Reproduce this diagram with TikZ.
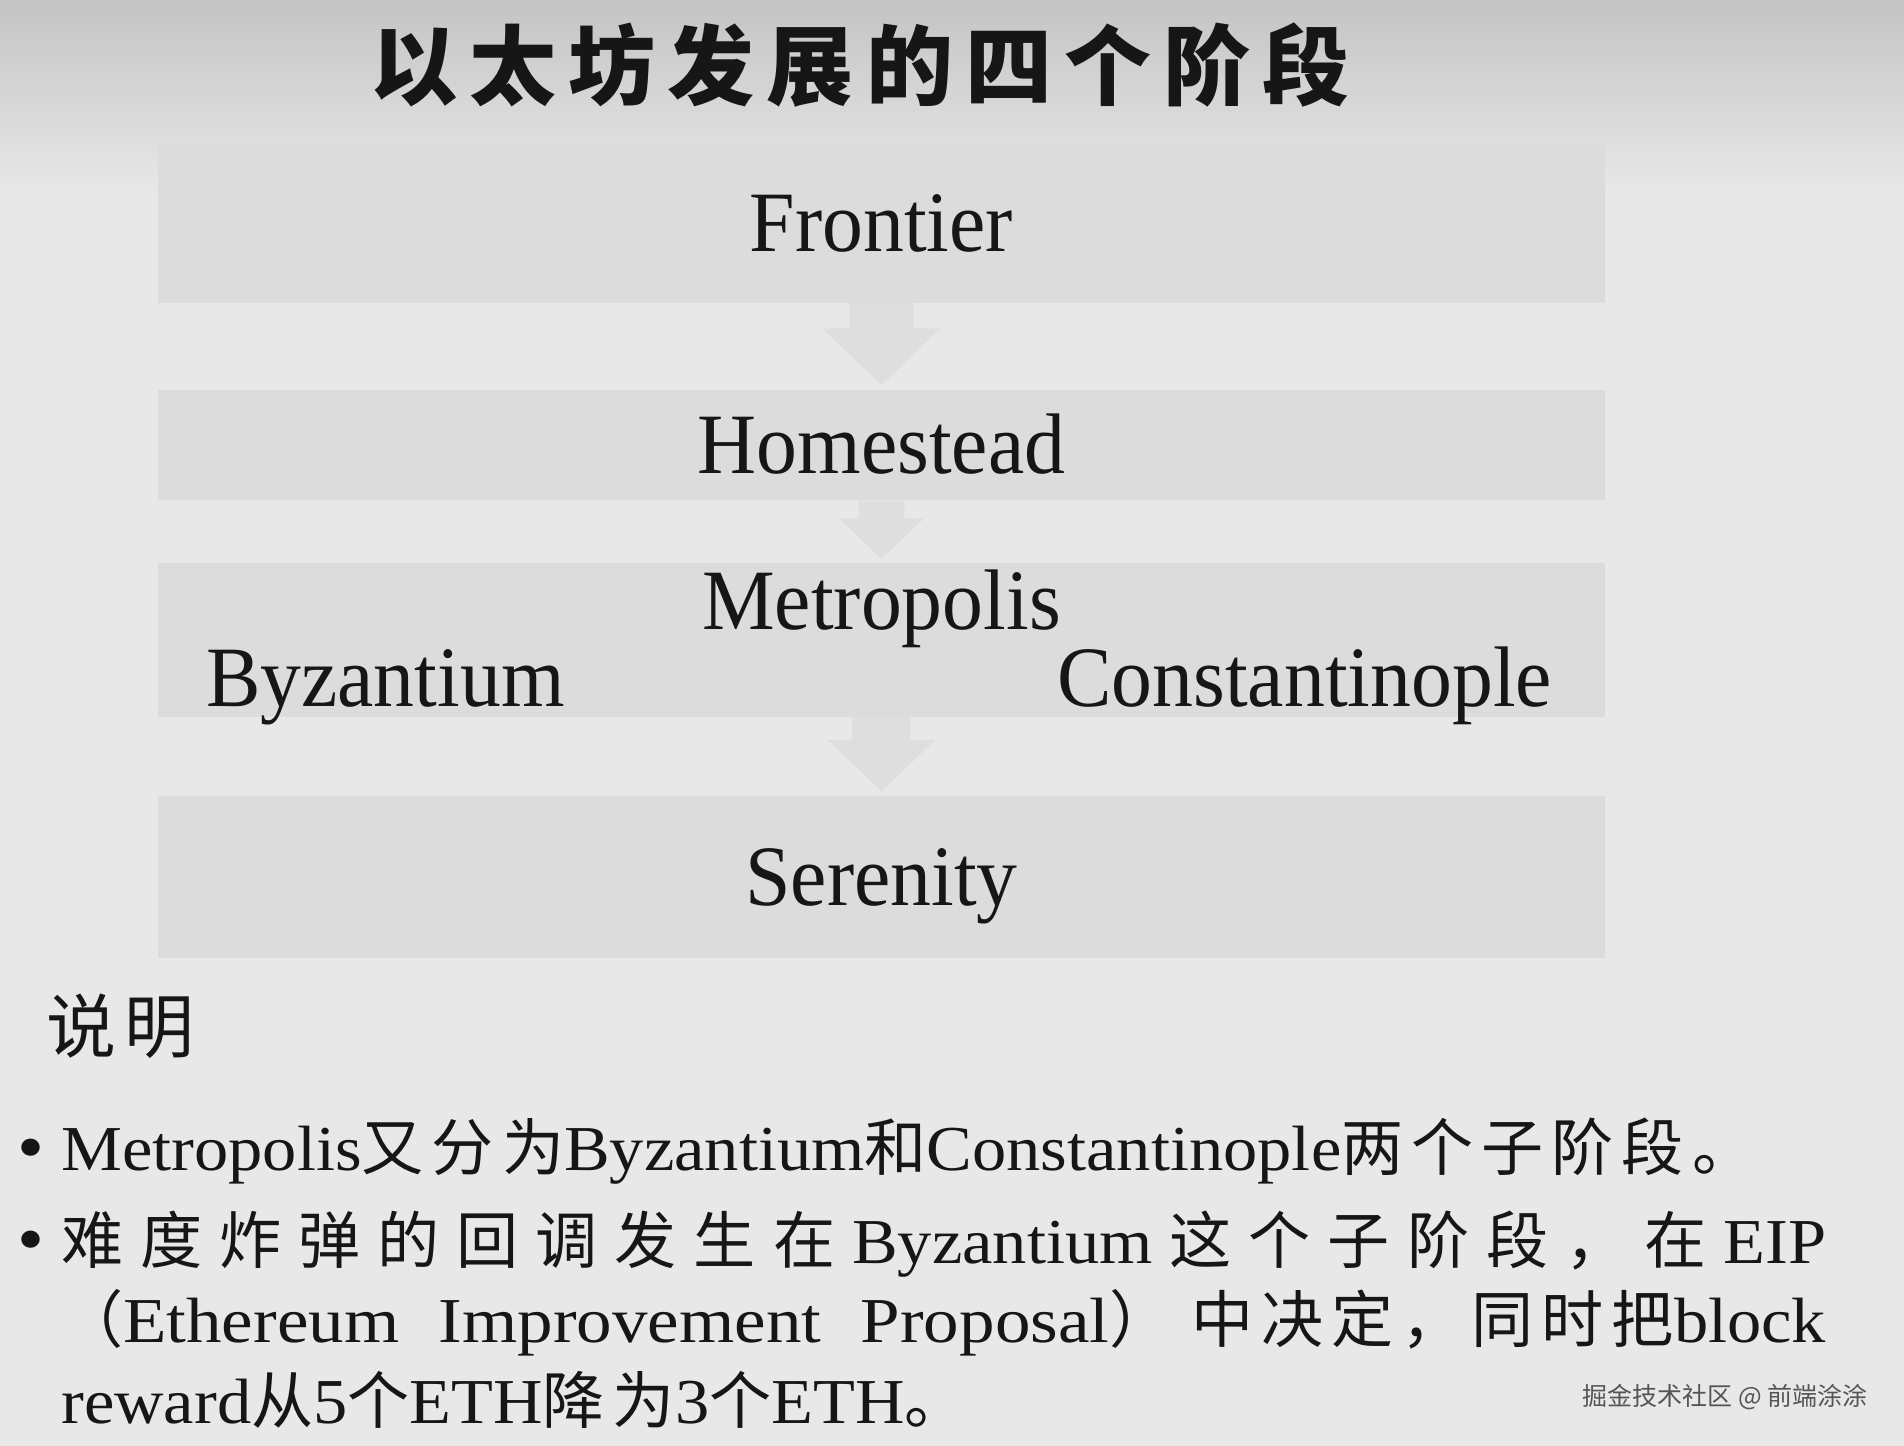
\documentclass[tikz,border=0pt]{standalone}
\usepackage{fontspec}
\usepackage{tikz}
\usetikzlibrary{positioning,calc}

\newfontfamily\stagefont[FakeStretch=0.95]{Liberation Serif}
\newfontfamily\notefont[FakeStretch=1.07]{Liberation Serif}
\newfontfamily\notewide[FakeStretch=1.11]{Liberation Serif}
\newfontfamily\zhnote[Scale=0.97,LetterSpace=13]{Noto Sans CJK SC}
\IfFontExistsTF{Noto Sans CJK SC Medium}
  {\newfontfamily\zhtitle[LetterSpace=14]{Noto Sans CJK SC Medium}}
  {\newfontfamily\zhtitle[LetterSpace=14]{Noto Sans CJK SC}}
\newfontfamily\zhmark{Noto Sans CJK SC}

\definecolor{bggray}{RGB}{232,232,232}
\definecolor{topgray}{RGB}{196,196,196}
\definecolor{boxgray}{RGB}{220,220,220}
\definecolor{arrowgray}{RGB}{222,222,222}
\definecolor{inkgray}{RGB}{22,22,22}
\definecolor{markgray}{RGB}{85,85,85}

\newcommand{\lat}[1]{{\notefont #1}}
\newcommand{\latw}[1]{{\notewide #1}}
\newcommand{\han}[1]{{\zhnote #1}}
\newcommand{\spread}{\hskip 0pt plus 1fil}
% block arrow between two stage boxes
\newcommand{\stagearrow}[2]{%
  \fill[arrowgray] let \p1=(#1.south), \p2=(#2.north), \n1={\y1-\y2} in
    (\x1-0.37*\n1,\y1) -- (\x1-0.37*\n1,\y2+0.71*\n1)
    -- (\x1-0.68*\n1,\y2+0.71*\n1) -- (\x2,\y2+0.06*\n1)
    -- (\x1+0.68*\n1,\y2+0.71*\n1) -- (\x1+0.37*\n1,\y2+0.71*\n1)
    -- (\x1+0.37*\n1,\y1) -- cycle;}

\begin{document}
\begin{tikzpicture}[x=1pt,y=1pt,text=inkgray,
    stagebox/.style={rectangle, fill=boxgray, minimum width=1447pt, inner sep=0pt,
      text height=57pt, text depth=0pt, font=\stagefont\fontsize{86}{90}\selectfont},
    stagelabel/.style={inner sep=0pt, text height=57pt, text depth=0pt,
      font=\stagefont\fontsize{86}{90}\selectfont},
    noteline/.style={anchor=base west, inner sep=0pt, font=\notefont\fontsize{64}{80}\selectfont},
    dot/.style={inner sep=0pt, font=\notefont\fontsize{72}{80}\selectfont}]

  \useasboundingbox (0,0) rectangle (1904,-1446);
  \fill[bggray] (0,0) rectangle (1904,-1446);
  \shade[top color=topgray, bottom color=bggray] (0,0) rectangle (1904,-195);

  \node[inner sep=0pt, font=\zhtitle\bfseries\fontsize{87}{90}\selectfont] (title) at (860,-65.5) {以太坊发展的四个阶段};

  % stages
  \node[stagebox, minimum height=160pt] (frontier) at (881.5,-223) {Frontier};
  \node[stagebox, minimum height=110pt, below=87pt of frontier] (homestead) {Homestead};
  \node[stagebox, minimum height=154pt, below=62pt of homestead] (metropolis) {};
  \node[stagebox, minimum height=162pt, below=79pt of metropolis] (serenity) {Serenity};

  \node[stagelabel] (metrolabel) at ([yshift=39pt]metropolis.center) {Metropolis};
  \node[stagelabel, anchor=west] (byzantium) at ([xshift=48pt,yshift=-38pt]metropolis.west) {Byzantium};
  \node[stagelabel, anchor=east] (constantinople) at ([xshift=-53pt,yshift=-38pt]metropolis.east) {Constantinople};

  \stagearrow{frontier}{homestead}
  \stagearrow{homestead}{metropolis}
  \stagearrow{metropolis}{serenity}

  % notes
  \node[inner sep=0pt, anchor=west, font=\zhnote\fontsize{72}{80}\selectfont] (notehead) at (46,-1026) {说\hspace{8pt}明};

  \node[dot] (bullet1) at (31,-1155) {•};
  \node[dot] (bullet2) at (31,-1247) {•};

  \node[noteline] (line1) at (61,-1170) {\lat{Metropolis}\han{又分为}\lat{Byzantium}\han{和}\lat{Constantinople}\han{两个子阶段。}};
  \node[noteline] (line2) at (61,-1263) {\hbox to 1765pt{\han{难}\spread\han{度}\spread\han{炸}\spread\han{弹}\spread\han{的}\spread\han{回}\spread\han{调}\spread\han{发}\spread\han{生}\spread\han{在}\spread\lat{Byzantium}\spread\han{这}\spread\han{个}\spread\han{子}\spread\han{阶}\spread\han{段}\spread\han{，}\spread\han{在}\spread\lat{EIP}}};
  \node[noteline] (line3) at (61,-1342) {\hbox to 1765pt{\han{（}\latw{Ethereum}\spread\latw{Improvement}\spread\latw{Proposal}\han{）}\hskip 0pt plus 0.5fil\han{中决定，同时把}\lat{block}}};
  \node[noteline] (line4) at (61,-1423) {\lat{reward}\han{从}\lat{5}\han{个}\lat{ETH}\han{降为}\lat{3}\han{个}\lat{ETH}\han{。}};

  \node[inner sep=0pt, anchor=east, text=markgray, font=\zhmark\fontsize{25}{27}\selectfont] (mark) at (1868,-1397) {掘金技术社区 @ 前端涂涂};
\end{tikzpicture}
\end{document}
